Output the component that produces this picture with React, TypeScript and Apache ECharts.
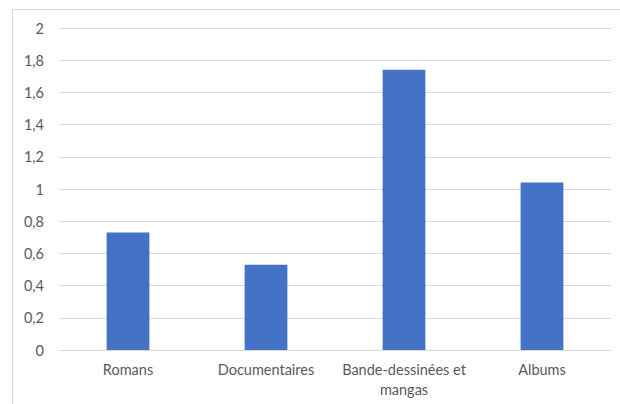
import React, { useEffect, useRef } from "react";
import * as echarts from "echarts";

const categories = ["Romans", "Documentaires", "Bande-dessinées et\nmangas", "Albums"];
const values = [0.73, 0.53, 1.74, 1.04];

export default function App() {
  const ref = useRef<HTMLDivElement>(null);
  useEffect(() => {
    if (!ref.current) return;
    const chart = echarts.init(ref.current, undefined, { renderer: "svg" });
    chart.setOption({
      animation: false,
      backgroundColor: "#ffffff",
      textStyle: { fontFamily: "Lato, 'Open Sans', sans-serif" },
      graphic: [
        {
          type: "rect",
          shape: { x: 12.5, y: 9.5, width: 640, height: 420 },
          style: { fill: "none", stroke: "#d9d9d9", lineWidth: 1 },
          silent: true,
        },
      ],
      grid: { left: 59, right: 9, top: 28, bottom: 54 },
      xAxis: {
        type: "category",
        data: categories,
        axisTick: { show: false },
        axisLine: { lineStyle: { color: "#d9d9d9", width: 1 } },
        axisLabel: {
          color: "#595959",
          fontSize: 14.5,
          margin: 9,
          lineHeight: 20,
          interval: 0,
        },
      },
      yAxis: {
        type: "value",
        min: 0,
        max: 2,
        interval: 0.2,
        axisLine: { show: false },
        axisTick: { show: false },
        splitLine: { lineStyle: { color: "#d9d9d9", width: 1 } },
        axisLabel: {
          color: "#595959",
          fontSize: 14.5,
          margin: 15,
          formatter: (v: number) => String(Math.round(v * 10) / 10).replace(".", ","),
        },
      },
      series: [
        {
          type: "bar",
          data: values,
          barWidth: "31%",
          itemStyle: { color: "#4472C4" },
        },
      ],
    });
    return () => chart.dispose();
  }, []);
  return (
    <div
      ref={ref}
      style={{ position: "fixed", left: 0, top: 0, width: 620, height: 404 }}
    />
  );
}
